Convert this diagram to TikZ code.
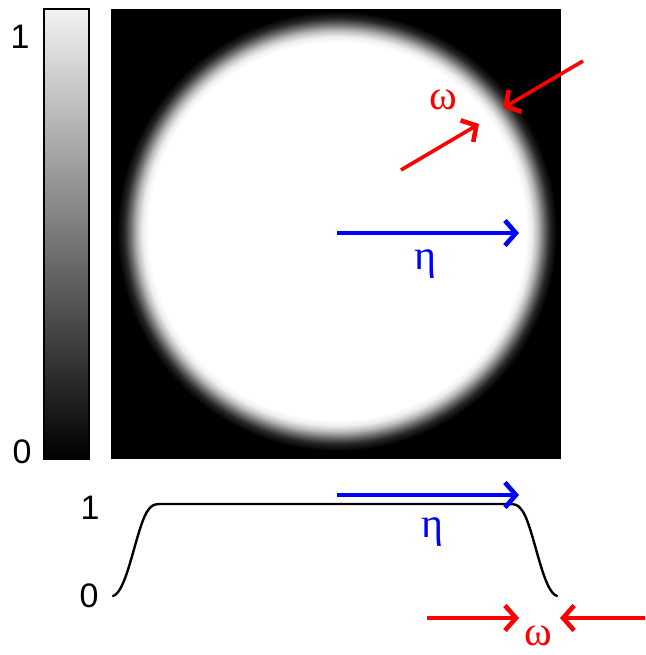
\documentclass[tikz,border=0pt]{standalone}
\usepackage{fontspec}
\setmainfont{Liberation Serif}
\newfontfamily\digitfont{Liberation Sans}
\usetikzlibrary{arrows.meta}
\pgfdeclareradialshading{softdisc}{\pgfpoint{0bp}{0bp}}{color(0bp)=(white); color(188bp)=(white); color(194bp)=(white!93!black); color(200bp)=(white!72!black); color(206bp)=(white!42!black); color(212bp)=(white!15!black); color(219bp)=(black); color(222bp)=(black)}
\tikzset{
  arr/.style={line width=3.6pt, -{Straight Barb[length=11pt,width=25pt,line width=4.6pt]}},
  greek/.style={font=\fontsize{42}{42}\selectfont, inner sep=0pt},
  digit/.style={font=\digitfont\fontsize{34}{34}\selectfont, inner sep=0pt},
}
\begin{document}
\begin{tikzpicture}[x=1pt,y=-1pt]
\useasboundingbox (0,0) rectangle (645,655);
% colour bar
\shade[top color=white!95!black, bottom color=black] (44,9) rectangle (89,459);
\draw[line width=1.6pt] (44,9) rectangle (89,459);
\node[digit] (cb1) at (20,37) {1};
\node[digit] (cb0) at (22,452) {0};
% image
\fill[black] (111,9) rectangle (561,459);
\node[inner sep=0pt, outer sep=0pt] (disc) at (337,231) {\pgfuseshading{softdisc}};
% eta arrow
\coordinate (ea) at (337,233);
\coordinate (eb) at (519,233);
\draw[arr, blue] (ea) -- (eb);
\node[greek, text=blue] (eta1) at (425,264) {η};
% omega arrows
\coordinate (wa) at (401,170);
\coordinate (wb) at (479,124);
\draw[arr, red] (wa) -- (wb);
\coordinate (wc) at (583,61);
\coordinate (wd) at (503,108);
\draw[arr, red] (wc) -- (wd);
\node[greek, text=red] (om1) at (443,100) {ω};
% profile
\node[digit] (p1) at (90,508) {1};
\node[digit] (p0) at (89,596) {0};
\coordinate (s0) at (113,596);
\coordinate (s1) at (160,504);
\coordinate (s2) at (510,504);
\coordinate (s3) at (557,596);
\draw[line width=2.4pt, line cap=round] (s0) .. controls (128,592) and (137,522) .. (149,509) .. controls (152,505) and (155,504) .. (s1) -- (s2) .. controls (515,504) and (518,505) .. (521,509) .. controls (533,522) and (542,592) .. (s3);
\coordinate (pa) at (337,495);
\coordinate (pb) at (519,495);
\draw[arr, blue] (pa) -- (pb);
\node[greek, text=blue] (eta2) at (432,532) {η};
\coordinate (qa) at (427,618);
\coordinate (qb) at (519,618);
\draw[arr, red] (qa) -- (qb);
\coordinate (qc) at (645,618);
\coordinate (qd) at (560,618);
\draw[arr, red] (qc) -- (qd);
\node[greek, text=red] (om2) at (538,636) {ω};
\end{tikzpicture}
\end{document}
